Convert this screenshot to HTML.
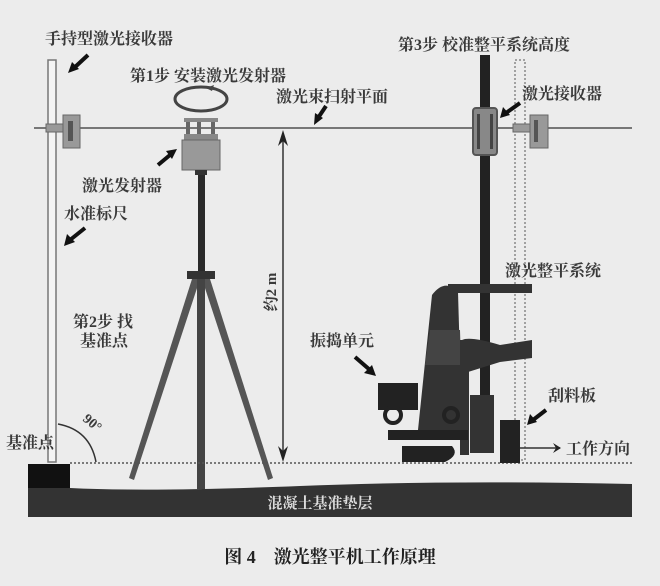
<!DOCTYPE html>
<html><head><meta charset="utf-8"><style>
html,body{margin:0;padding:0;background:#ececec;}
svg{display:block}
text{font-family:"Liberation Serif","Noto Serif CJK SC","Noto Sans CJK SC",serif;fill:#3a3a3a;font-weight:bold;}
</style></head><body>
<svg width="660" height="586" viewBox="0 0 660 586" xmlns="http://www.w3.org/2000/svg">
<defs>
<marker id="ah" markerWidth="8" markerHeight="10" refX="7" refY="5" orient="auto" markerUnits="userSpaceOnUse"><path d="M0,0 L8,5 L0,10 L3,5 Z" fill="#222"/></marker>
</defs>
<rect width="660" height="586" fill="#ececec"/>
<line x1="34" y1="128" x2="632" y2="128" stroke="#777" stroke-width="2"/>
<rect x="48" y="60" width="8" height="402" fill="#f4f4f4" stroke="#777" stroke-width="1.5"/>
<rect x="46" y="124" width="18" height="8" fill="#999" stroke="#666"/>
<rect x="63" y="115" width="17" height="33" fill="#999" stroke="#666"/>
<rect x="68" y="121" width="5" height="20" fill="#555"/>
<ellipse cx="201" cy="99" rx="26" ry="12" fill="none" stroke="#444" stroke-width="3"/>
<path d="M206 88 l8 -3 l-2 6 z" fill="#444"/>
<rect x="184" y="118" width="34" height="4" fill="#888"/>
<rect x="186" y="122" width="4" height="14" fill="#666"/><rect x="197" y="122" width="4" height="14" fill="#666"/><rect x="211" y="122" width="4" height="14" fill="#666"/>
<rect x="184" y="134" width="34" height="6" fill="#888"/>
<rect x="182" y="140" width="38" height="30" fill="#999" stroke="#666"/>
<rect x="195" y="170" width="12" height="5" fill="#333"/>
<rect x="198" y="175" width="7" height="97" fill="#2a2a2a"/>
<rect x="187" y="271" width="28" height="8" fill="#333"/>
<path d="M192 279 L200 279 L134 480 L129 478 Z" fill="#555"/>
<path d="M202 279 L210 279 L273 478 L268 480 Z" fill="#555"/>
<rect x="197" y="279" width="8" height="210" fill="#444"/>
<line x1="283" y1="140" x2="283" y2="452" stroke="#333" stroke-width="1.5"/>
<path d="M283 130 L278 146 L283 141 L288 146 Z" fill="#222"/>
<path d="M283 462 L278 446 L283 451 L288 446 Z" fill="#222"/>
<text transform="translate(276,292) rotate(-90)" font-size="15" text-anchor="middle">约2 m</text>
<line x1="70" y1="463" x2="632" y2="463" stroke="#555" stroke-width="1.5" stroke-dasharray="2,2"/>
<path d="M28 484 L70 484 L70 488 Q150 492 300 486 Q450 480 632 484 L632 517 L28 517 Z" fill="#333"/>
<rect x="28" y="464" width="42" height="24" fill="#111"/>
<text x="320" y="508" font-size="15" text-anchor="middle" style="fill:#ddd">混凝土基准垫层</text>
<path d="M58 424 Q90 430 96 462" fill="none" stroke="#333" stroke-width="1.5"/>
<text transform="translate(82,420) rotate(40)" font-size="14">90°</text>
<!-- right mast -->
<rect x="480" y="55" width="10" height="398" fill="#222"/>
<rect x="473" y="108" width="24" height="47" rx="3" fill="#888" stroke="#555" stroke-width="2"/>
<rect x="477" y="114" width="3" height="35" fill="#444"/><rect x="490" y="114" width="3" height="35" fill="#444"/>
<rect x="515" y="60" width="10" height="400" fill="none" stroke="#888" stroke-width="1.5" stroke-dasharray="2,2"/>
<rect x="513" y="124" width="22" height="8" fill="#999" stroke="#666"/>
<rect x="530" y="115" width="18" height="33" fill="#999" stroke="#666"/>
<rect x="534" y="120" width="4" height="22" fill="#555"/>
<!-- machine -->
<path d="M432 295 Q445 278 458 292 L462 430 L418 430 Z" fill="#333"/>
<path d="M430 330 L460 330 L461 365 L425 365 Z" fill="#444"/>
<rect x="448" y="284" width="84" height="9" fill="#333"/>
<path d="M462 340 Q470 336 500 345 L532 340 L532 358 L500 362 L468 372 Z" fill="#333"/>
<rect x="460" y="340" width="9" height="115" fill="#333"/>
<rect x="470" y="395" width="24" height="58" fill="#333"/>
<rect x="378" y="383" width="40" height="27" fill="#222"/>
<circle cx="393" cy="415" r="8" fill="none" stroke="#222" stroke-width="4"/>
<circle cx="451" cy="415" r="7" fill="none" stroke="#222" stroke-width="4"/>
<rect x="388" y="430" width="80" height="10" fill="#222"/>
<path d="M402 446 L452 446 Q460 455 445 462 L402 462 Z" fill="#222"/>
<rect x="500" y="420" width="20" height="43" fill="#222"/>
<line x1="520" y1="448" x2="560" y2="448" stroke="#333" stroke-width="1.5" marker-end="url(#ah)"/>
<g stroke="#111" stroke-width="4" fill="#111">
<line x1="88" y1="55" x2="74" y2="68"/><path d="M68 73 L72 62 L79 69 Z" stroke="none"/>
<line x1="326" y1="106" x2="318" y2="118"/><path d="M314 125 L315 113 L323 118 Z" stroke="none"/>
<line x1="158" y1="165" x2="170" y2="155"/><path d="M177 149 L166 151 L172 159 Z" stroke="none"/>
<line x1="85" y1="228" x2="70" y2="240"/><path d="M64 246 L67 234 L75 242 Z" stroke="none"/>
<line x1="520" y1="103" x2="506" y2="113"/><path d="M500 118 L503 107 L510 115 Z" stroke="none"/>
<line x1="355" y1="357" x2="370" y2="370"/><path d="M376 376 L364 373 L372 365 Z" stroke="none"/>
<line x1="546" y1="410" x2="533" y2="420"/><path d="M527 425 L530 414 L537 422 Z" stroke="none"/>
</g>
<g font-size="16">
<text x="45" y="44">手持型激光接收器</text>
<text x="130" y="81">第1步 安装激光发射器</text>
<text x="276" y="102">激光束扫射平面</text>
<text x="398" y="50">第3步 校准整平系统高度</text>
<text x="522" y="99">激光接收器</text>
<text x="82" y="191">激光发射器</text>
<text x="64" y="219">水准标尺</text>
<text x="73" y="327">第2步 找</text>
<text x="80" y="346">基准点</text>
<text x="6" y="448">基准点</text>
<text x="505" y="276">激光整平系统</text>
<text x="310" y="346">振捣单元</text>
<text x="548" y="401">刮料板</text>
<text x="566" y="454">工作方向</text>
</g>
<text x="330" y="563" font-size="18" text-anchor="middle" style="fill:#222">图 4　激光整平机工作原理</text>
</svg>
</body></html>
